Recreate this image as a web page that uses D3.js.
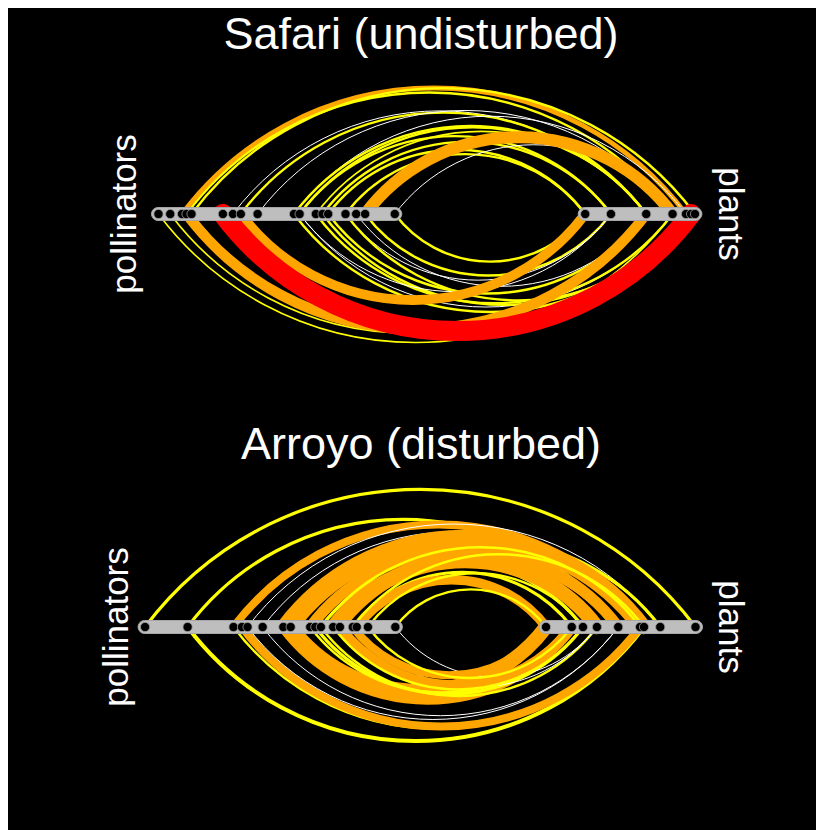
<!DOCTYPE html>
<html>
<head>
<meta charset="utf-8">
<script src="https://cdn.jsdelivr.net/npm/d3@7"></script>
<style>
  body { margin: 8px; background: #fff; overflow: hidden; }
  text { font-family: "Liberation Sans", Arial, sans-serif; fill: #fff; }
</style>
</head>
<body>
<div class="layout"></div>
<script>
// node positions along the linear layout (0 - 100)
var safariPollinators = [3.3, 5.4, 7.5, 8.3, 9.2, 14.8, 16.6, 18.0, 21.0, 27.5, 28.5, 31.4, 32.6, 33.6, 36.7, 38.6, 40.2, 45.5]
var safariPlants = [79.5, 84.1, 90.4, 95.1, 97.5, 98.4, 99.1]

// links: [pollinator, plant, visits, side (1 above, -1 below)]
var safariLinks = [
  [2, 4, 6, 1], [3, 3, 3, 1], [4, 6, 3, 1], [6, 2, 1, 1], [7, 2, 3, 1],
  [8, 3, 1, 1], [9, 4, 1, 1], [9, 2, 3, 1], [10, 2, 3, 1], [10, 1, 3, 1],
  [11, 2, 2, 1], [12, 1, 3, 1], [13, 0, 3, 1], [14, 0, 3, 1], [17, 3, 1, 1],
  [16, 3, 15, 1],
  [0, 3, 2, -1], [1, 2, 2, -1], [4, 2, 3, -1], [9, 4, 3, -1], [10, 3, 1, -1],
  [11, 3, 3, -1], [12, 4, 3, -1], [13, 2, 3, -1], [15, 2, 1, -1], [16, 1, 3, -1],
  [17, 0, 3, -1], [14, 1, 1, -1], [14, 5, 3, -1], [10, 1, 1, -1],
  [3, 2, 13, -1], [7, 0, 12, -1], [5, 5, 25, -1]
]

var arroyoPollinators = [0.9, 8.5, 16.7, 18.2, 19.2, 21.9, 25.6, 26.9, 30.4, 31.3, 32.3, 34.5, 35.7, 38.0, 38.7, 40.7, 45.6]
var arroyoPlants = [72.5, 77.1, 79.1, 81.6, 85.4, 89.3, 90.0, 92.9, 99.2]

var arroyoLinks = [
  [0, 8, 4, 1], [1, 4, 4, 1], [2, 6, 10, 1], [4, 7, 1, 1], [5, 6, 1, 1],
  [9, 7, 4, 1], [11, 7, 3, 1], [6, 6, 18, 1], [7, 5, 18, 1], [8, 4, 14, 1],
  [10, 2, 4, 1], [13, 1, 4, 1], [11, 3, 18, 1], [12, 4, 12, 1], [14, 0, 12, 1],
  [15, 2, 3, 1], [16, 0, 3, 1], [13, 6, 3, 1], [10, 5, 3, 1],
  [1, 6, 5, -1], [2, 5, 3, -1], [3, 5, 10, -1], [5, 4, 1, -1], [4, 4, 1, -1],
  [7, 0, 18, -1], [6, 1, 14, -1], [9, 2, 4, -1], [10, 3, 3, -1], [8, 1, 3, -1],
  [16, 3, 1, -1], [14, 3, 1, -1], [13, 0, 10, -1], [12, 1, 12, -1],
  [15, 1, 3, -1], [11, 2, 3, -1]
]

var titles = ["Safari (undisturbed)", "Arroyo (disturbed)"]
var sideLabels = ["pollinators", "plants"]

var svg = d3.select("div.layout")
  .append("svg")
  .attr("width", 816)
  .attr("height", 822)
  .style("display", "block")
  .style("background", "#000")

// work in page coordinates
var root = svg.append("g").attr("transform", "translate(-8, -8)")

var x = d3.scaleLinear().domain([0, 100]).range([140, 700])
var lineWidth = d3.scaleLinear().domain([0, 25]).range([0, 20])
var color = d3.scaleThreshold()
  .domain([2, 6, 21])
  .range(["#ffffff", "#ffff00", "#ffa500", "#ff0000"])

// circle segment between two points, sagitta a quarter of the span
function arcPath (x1, x2, y, side) {
  var r = (x2 - x1) * 0.625
  return "M" + x1 + "," + y + "A" + r + "," + r + " 0 0 " + (side > 0 ? 1 : 0) + " " + x2 + "," + y
}

function drawWeb (title, pollinators, plants, links, cy, titleY, polLabelX) {
  var g = root.append("g")

  g.append("text")
    .attr("x", 421)
    .attr("y", titleY)
    .attr("text-anchor", "middle")
    .style("font-size", "45px")
    .text(title)

  g.selectAll("path.link")
    .data(links)
    .enter()
    .append("path")
    .attr("class", "link")
    .attr("d", function (d) {
      return arcPath(x(pollinators[d[0]]), x(plants[d[1]]), cy, d[3])
    })
    .attr("fill", "none")
    .attr("stroke", function (d) { return color(d[2]) })
    .attr("stroke-width", function (d) { return Math.max(1, lineWidth(d[2])) })
    .attr("stroke-linecap", "round")

  // grey bars for both node sets
  ;[pollinators, plants].forEach(function (nodes) {
    var x0 = x(d3.min(nodes)) - 7
    var x1 = x(d3.max(nodes)) + 7
    g.append("rect")
      .attr("x", x0)
      .attr("y", cy - 6.5)
      .attr("width", x1 - x0)
      .attr("height", 13)
      .attr("rx", 6.5)
      .attr("fill", "#bebebe")
      .attr("stroke", "#a6a6a6")
      .attr("stroke-width", 1)

    g.selectAll(null)
      .data(nodes)
      .enter()
      .append("circle")
      .attr("cx", function (d) { return x(d) })
      .attr("cy", cy)
      .attr("r", 4.6)
      .attr("fill", "#000")
      .attr("stroke", "#9a9a9a")
      .attr("stroke-width", 0.8)
  })

  g.append("text")
    .attr("transform", "translate(" + polLabelX + "," + cy + ") rotate(-90)")
    .attr("text-anchor", "middle")
    .style("font-size", "35px")
    .text(sideLabels[0])

  g.append("text")
    .attr("transform", "translate(719," + cy + ") rotate(90)")
    .attr("text-anchor", "middle")
    .style("font-size", "35px")
    .text(sideLabels[1])
}

drawWeb(titles[0], safariPollinators, safariPlants, safariLinks, 214, 49, 136)
drawWeb(titles[1], arroyoPollinators, arroyoPlants, arroyoLinks, 627, 459, 128)
</script>
</body>
</html>
